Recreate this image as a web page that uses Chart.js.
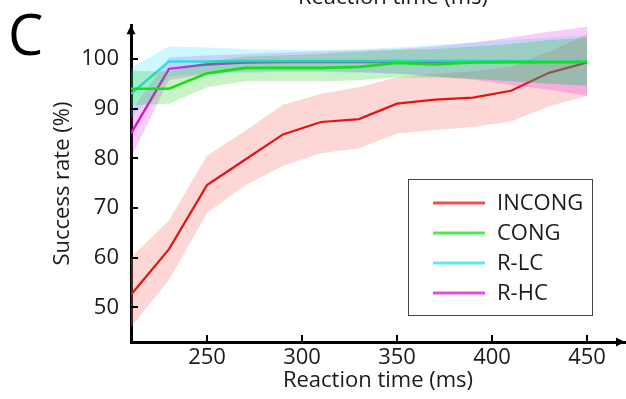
<!DOCTYPE html>
<html>
<head>
<meta charset="utf-8">
<script src="https://cdn.jsdelivr.net/npm/chart.js@4.4.1/dist/chart.umd.min.js"></script>
<style>
  body { margin: 0; background: #fff; }
</style>
</head>
<body>
<canvas id="rt-chart" width="626" height="399"></canvas>
<script>
// reaction time bins (ms) and axis ticks
const reactionTime = [210, 230, 250, 270, 290, 310, 330, 350, 370, 390, 410, 430, 450];
const xTicks = [250, 300, 350, 400, 450];
const yTicks = [50, 60, 70, 80, 90, 100];

// success rate (%) - mean and shaded band
const incongMean  = [52.5, 61.7, 74.6, 79.7, 84.8, 87.3, 87.9, 91.0, 91.8, 92.2, 93.6, 97.2, 99.3];
const incongUpper = [60.0, 67.5, 80.5, 85.5, 90.8, 93.0, 94.3, 96.3, 97.0, 97.5, 98.5, 101.5, 105.0];
const incongLower = [46.0, 55.5, 69.0, 74.5, 78.5, 81.0, 82.0, 85.0, 85.7, 86.3, 87.4, 90.5, 92.6];

const congMean  = [94.0, 94.0, 97.1, 98.2, 98.2, 98.2, 98.4, 99.2, 98.9, 99.3, 99.4, 99.4, 99.4];
const congUpper = [97.6, 97.5, 99.5, 100.5, 100.7, 101.0, 101.5, 101.8, 102.0, 102.5, 103.0, 103.8, 104.2];
const congLower = [90.7, 91.0, 94.3, 95.5, 95.5, 95.5, 95.7, 96.3, 96.2, 96.0, 95.5, 95.0, 94.6];

const rlcMean  = [93.0, 99.5, 99.5, 99.6, 99.6, 99.6, 99.6, 99.6, 99.6, 99.6, 99.6, 99.5, 99.5];
const rlcUpper = [98.2, 102.5, 102.3, 102.0, 101.8, 101.8, 102.0, 102.3, 102.8, 103.3, 103.8, 104.3, 104.8];
const rlcLower = [88.0, 96.5, 97.0, 97.2, 97.4, 97.4, 97.2, 97.0, 96.5, 96.0, 95.5, 95.0, 94.5];

const rhcMean  = [85.0, 98.0, 98.9, 99.3, 99.4, 99.4, 99.4, 99.4, 99.4, 99.4, 99.4, 99.4, 99.4];
const rhcUpper = [89.5, 100.3, 100.7, 101.0, 101.3, 101.5, 101.7, 102.0, 102.5, 103.3, 104.3, 105.5, 106.5];
const rhcLower = [80.2, 95.7, 97.0, 97.5, 97.6, 97.6, 97.4, 97.0, 96.5, 95.8, 94.8, 93.8, 92.6];

const FONT = '"Open Sans", "DejaVu Sans", sans-serif';
const TEXT = '#1a1a1a';

// order = drawing layer (higher drawn first)
const series = [
    { label: 'INCONG', mean: incongMean, upper: incongUpper, lower: incongLower,
      color: 'rgb(228,20,20)', band: 'rgba(248,120,120,0.3)', width: 2.2, order: 9 },
    { label: 'CONG', mean: congMean, upper: congUpper, lower: congLower,
      color: 'rgb(20,225,20)', band: 'rgba(0,200,0,0.22)', width: 2.6, order: 0 },
    { label: 'R-LC', mean: rlcMean, upper: rlcUpper, lower: rlcLower,
      color: 'rgb(40,225,232)', band: 'rgba(0,220,255,0.2)', width: 2.4, order: 3 },
    { label: 'R-HC', mean: rhcMean, upper: rhcUpper, lower: rhcLower,
      color: 'rgb(215,20,215)', band: 'rgba(230,0,230,0.2)', width: 2.4, order: 6 },
];

function points(arr) {
    return reactionTime.map((t, i) => ({ x: t, y: arr[i] }));
}

const datasets = [];
series.forEach(s => {
    datasets.push({
        label: s.label + ' upper', data: points(s.upper),
        borderWidth: 0, borderColor: 'transparent', pointRadius: 0,
        fill: false, order: s.order + 2
    });
    datasets.push({
        label: s.label + ' lower', data: points(s.lower),
        borderWidth: 0, borderColor: 'transparent', pointRadius: 0,
        fill: '-1', backgroundColor: s.band, order: s.order + 1
    });
    datasets.push({
        label: s.label, data: points(s.mean),
        borderColor: s.color, borderWidth: s.width, pointRadius: 0,
        fill: false, order: s.order, isMain: true
    });
});

// arrows, inward ticks, panel letter, legend box
const decor = {
    id: 'decor',
    afterDraw(chart) {
        const ctx = chart.ctx;
        const area = chart.chartArea;
        const xs = chart.scales.x, ys = chart.scales.y;
        ctx.save();
        ctx.fillStyle = '#000';
        ctx.strokeStyle = '#000';

        // arrow heads
        ctx.beginPath();
        ctx.moveTo(area.left, area.top);
        ctx.lineTo(area.left - 4.5, area.top + 9);
        ctx.lineTo(area.left + 4.5, area.top + 9);
        ctx.closePath();
        ctx.fill();
        ctx.beginPath();
        ctx.moveTo(area.right, area.bottom);
        ctx.lineTo(area.right - 9, area.bottom - 4.5);
        ctx.lineTo(area.right - 9, area.bottom + 4.5);
        ctx.closePath();
        ctx.fill();

        // inward tick marks
        ctx.lineWidth = 2;
        xs.ticks.forEach(t => {
            const px = Math.round(xs.getPixelForValue(t.value));
            ctx.beginPath();
            ctx.moveTo(px, area.bottom);
            ctx.lineTo(px, area.bottom - 7);
            ctx.stroke();
        });
        ys.ticks.forEach(t => {
            const py = Math.round(ys.getPixelForValue(t.value));
            ctx.beginPath();
            ctx.moveTo(area.left, py);
            ctx.lineTo(area.left + 7, py);
            ctx.stroke();
        });

        // cut-off title from panel above
        ctx.fillStyle = TEXT;
        ctx.font = '22px ' + FONT;
        ctx.textAlign = 'center';
        ctx.textBaseline = 'alphabetic';
        ctx.fillText('Reaction time (ms)', 393, 3.5);

        // panel letter
        ctx.textAlign = 'left';
        ctx.font = '56px ' + FONT;
        ctx.fillStyle = '#000';
        ctx.fillText('C', 8, 55);

        // legend
        ctx.strokeStyle = '#444';
        ctx.lineWidth = 1;
        ctx.strokeRect(408.5, 179.5, 184, 136);
        ctx.font = '22px ' + FONT;
        ctx.textBaseline = 'middle';
        const mains = chart.data.datasets.filter(d => d.isMain);
        mains.forEach((d, i) => {
            const y = 203 + i * 30;
            ctx.globalAlpha = 0.75;
            ctx.strokeStyle = d.borderColor;
            ctx.lineWidth = 3;
            ctx.beginPath();
            ctx.moveTo(433, y);
            ctx.lineTo(485, y);
            ctx.stroke();
            ctx.globalAlpha = 1;
            ctx.fillStyle = TEXT;
            ctx.fillText(d.label, 497, y + 1);
        });
        ctx.restore();
    }
};

const chart = new Chart(document.getElementById('rt-chart').getContext('2d'), {
    type: 'line',
    data: { datasets: datasets },
    options: {
        responsive: false,
        animation: false,
        devicePixelRatio: 1,
        layout: { padding: { top: 18, right: 1, left: 0, bottom: 0 } },
        elements: { line: { tension: 0 } },
        scales: {
            x: {
                type: 'linear',
                min: 210,
                max: 470,
                z: 1,
                afterFit: scale => { scale.height = 57; },
                afterBuildTicks: scale => { scale.ticks = xTicks.map(v => ({ value: v })); },
                grid: { display: false, drawTicks: false },
                border: { display: true, color: '#000', width: 3 },
                ticks: { color: TEXT, font: { family: FONT, size: 22 }, padding: 3, maxRotation: 0 },
                title: {
                    display: true, text: 'Reaction time (ms)', color: TEXT,
                    font: { family: FONT, size: 22 }, padding: { top: 0, bottom: 5 }
                }
            },
            y: {
                type: 'linear',
                min: 43,
                max: 106.8,
                z: 1,
                afterFit: scale => { scale.width = 131; },
                afterBuildTicks: scale => { scale.ticks = yTicks.map(v => ({ value: v })); },
                grid: { display: false, drawTicks: false },
                border: { display: true, color: '#000', width: 3 },
                ticks: { color: TEXT, font: { family: FONT, size: 22 }, padding: 12 },
                title: {
                    display: true, text: 'Success rate (%)', color: TEXT,
                    font: { family: FONT, size: 22 }, padding: { top: 50, bottom: 0 }
                }
            }
        },
        plugins: {
            legend: { display: false },
            tooltip: { enabled: false },
            filler: { propagate: false }
        }
    },
    plugins: [decor]
});
</script>
</body>
</html>
